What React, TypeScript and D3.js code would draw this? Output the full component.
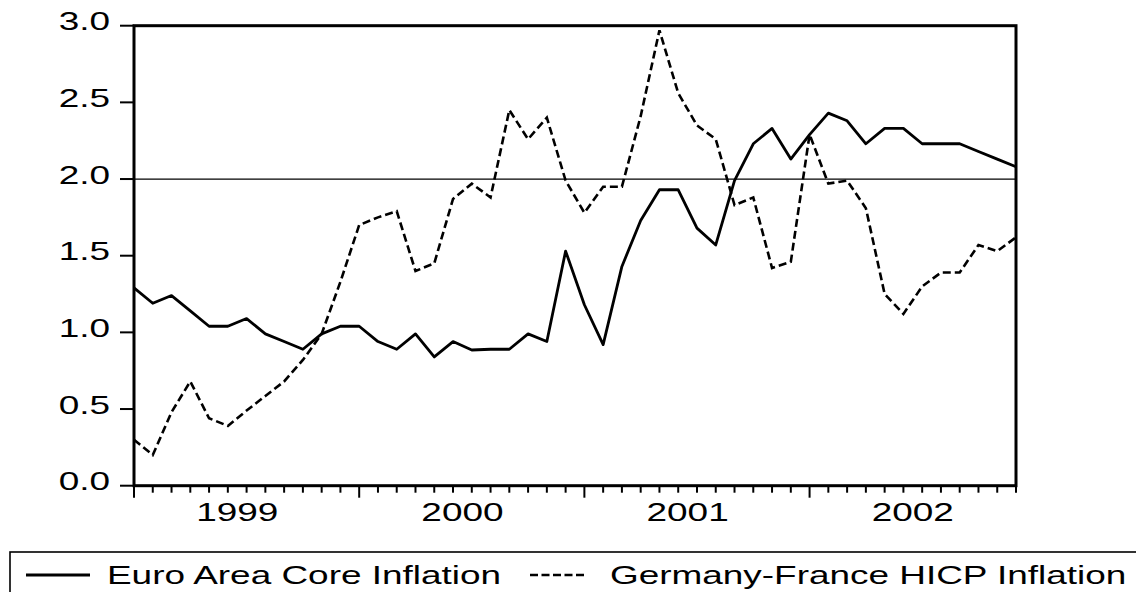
import * as React from 'react';
import * as d3 from 'd3';

// monthly, Jan 1999 .. Dec 2002
const coreInflation = [
  1.29, 1.19, 1.24, 1.14, 1.04, 1.04, 1.09, 0.99, 0.94, 0.89, 0.99, 1.04,
  1.04, 0.94, 0.89, 0.99, 0.84, 0.94, 0.885, 0.89, 0.89, 0.99, 0.94, 1.53,
  1.18, 0.92, 1.43, 1.73, 1.93, 1.93, 1.68, 1.57, 1.99, 2.23, 2.33, 2.13,
  2.29, 2.43, 2.38, 2.23, 2.33, 2.33, 2.23, 2.23, 2.23, 2.18, 2.13, 2.08,
];
const hicpInflation = [
  0.30, 0.20, 0.48, 0.68, 0.44, 0.39, 0.49, 0.585, 0.68, 0.82, 0.99, 1.33,
  1.70, 1.75, 1.79, 1.40, 1.45, 1.87, 1.97, 1.88, 2.45, 2.26, 2.40, 1.99,
  1.78, 1.95, 1.95, 2.41, 2.97, 2.56, 2.35, 2.26, 1.83, 1.88, 1.42, 1.46,
  2.29, 1.97, 1.99, 1.81, 1.25, 1.12, 1.30, 1.39, 1.39, 1.57, 1.53, 1.62,
];
const years = ['1999', '2000', '2001', '2002'];
const yTicks = [0, 0.5, 1.0, 1.5, 2.0, 2.5, 3.0];
const refLevel = 2.0;
const seriesNames = ['Euro Area Core Inflation', 'Germany-France HICP Inflation'];

const FONT = '"Liberation Sans", Arial, sans-serif';
const STRETCH = 1.46;

export default function App() {
  const ref = React.useRef<SVGSVGElement>(null);

  React.useEffect(() => {
    const width = 1136;
    const height = 592;
    const left = 134, right = 1016, top = 25.7, bottom = 485.7;

    const svg = d3.select(ref.current).attr('width', width).attr('height', height);
    svg.selectAll('*').remove();

    const x = d3.scaleLinear().domain([0, coreInflation.length - 1]).range([left, right]);
    const y = d3.scaleLinear().domain([0, 3]).range([bottom, top]);

    const label = (g, tx, ty, text, anchor, size = 25.3) => {
      g.append('g')
        .attr('transform', `translate(${tx},${ty}) scale(${STRETCH},1)`)
        .append('text')
        .attr('text-anchor', anchor)
        .attr('font-family', FONT)
        .attr('font-size', size)
        .attr('fill', 'black')
        .text(text);
    };

    // y ticks + labels
    yTicks.forEach(t => {
      svg.append('line')
        .attr('x1', left - 14).attr('x2', left)
        .attr('y1', y(t)).attr('y2', y(t))
        .attr('stroke', 'black').attr('stroke-width', 2);
      label(svg, 110, y(t) + 4.5, t.toFixed(1), 'end');
    });

    // x ticks, long ones at January
    d3.range(coreInflation.length).forEach(i => {
      svg.append('line')
        .attr('x1', x(i)).attr('x2', x(i))
        .attr('y1', bottom).attr('y2', bottom + (i % 12 === 0 ? 12 : 7))
        .attr('stroke', 'black').attr('stroke-width', 2);
    });
    years.forEach((yr, k) => {
      label(svg, x(k * 12 + 5.5), 520.5, yr, 'middle');
    });

    // 2.0 reference line
    svg.append('line')
      .attr('x1', left).attr('x2', right)
      .attr('y1', y(refLevel)).attr('y2', y(refLevel))
      .attr('stroke', 'black').attr('stroke-width', 1.3);

    const line = d3.line<number>().x((d, i) => x(i)).y(d => y(d));

    svg.append('path')
      .attr('d', line(hicpInflation))
      .attr('fill', 'none')
      .attr('stroke', 'black')
      .attr('stroke-width', 2.6)
      .attr('stroke-dasharray', '8,4');

    svg.append('path')
      .attr('d', line(coreInflation))
      .attr('fill', 'none')
      .attr('stroke', 'black')
      .attr('stroke-width', 2.8)
      .attr('stroke-linejoin', 'round');

    // frame
    svg.append('rect')
      .attr('x', left).attr('y', top)
      .attr('width', right - left).attr('height', bottom - top)
      .attr('fill', 'none')
      .attr('stroke', 'black')
      .attr('stroke-width', 3);

    // legend
    svg.append('rect')
      .attr('x', 10).attr('y', 552)
      .attr('width', 1200).attr('height', 100)
      .attr('fill', 'none')
      .attr('stroke', 'black')
      .attr('stroke-width', 1.6);

    svg.append('line')
      .attr('x1', 26).attr('x2', 90).attr('y1', 575).attr('y2', 575)
      .attr('stroke', 'black').attr('stroke-width', 2.8);
    label(svg, 107, 584, seriesNames[0], 'start');

    svg.append('line')
      .attr('x1', 530).attr('x2', 586).attr('y1', 575).attr('y2', 575)
      .attr('stroke', 'black').attr('stroke-width', 2.6)
      .attr('stroke-dasharray', '8,3.5');
    label(svg, 610, 584, seriesNames[1], 'start');
  }, []);

  return (
    <svg ref={ref} style={{ position: 'absolute', left: 0, top: 0, background: 'white' }}></svg>
  );
}
